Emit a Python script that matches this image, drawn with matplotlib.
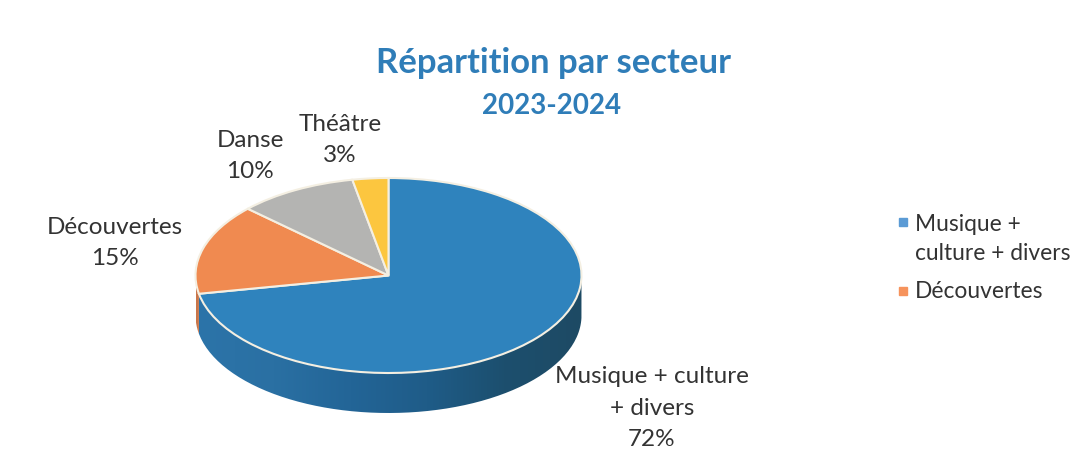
import numpy as np
import matplotlib
matplotlib.use("Agg")
import matplotlib.pyplot as plt
from matplotlib.colors import LinearSegmentedColormap
from matplotlib.lines import Line2D
from matplotlib.patches import PathPatch
from matplotlib.path import Path

plt.rcParams['font.family'] = ['Lato', 'DejaVu Sans']

# données
categories = ['Musique + culture\n+ divers', 'Découvertes', 'Danse', 'Théâtre']
values = [72, 15, 10, 3]
colors = ['#2f83bd', '#f08a50', '#b4b4b2', '#fcc63f']
legend_labels = ['Musique +\nculture + divers', 'Découvertes']
legend_colors = ['#5b9bd5', '#f6935c']
title = 'Répartition par secteur'
subtitle = '2023-2024'

W, H = 1078, 465
cx, cy = 388.5, 275.5    # centre du camembert (pixels)
rx, ry = 193, 97.5
depth = 40

fig = plt.figure(figsize=(W/100, H/100), dpi=100)

# axes en coordonnées "cercle unité", écrasés pour faire la perspective
ax = fig.add_axes([(cx-1.3*rx)/W, 1-(cy+1.6*ry)/H, 2.6*rx/W, 3.2*ry/H])
ax.axis('off')

d = depth/ry

# côté du camembert
side_maps = [
    LinearSegmentedColormap.from_list('b', ['#2c74a9', '#2a70a3', '#236597', '#1f5c88', '#1c4f6e', '#1e4a64']),
    LinearSegmentedColormap.from_list('o', ['#c9764a', '#c9764a']),
]
angles = 90 - np.cumsum([0] + values)*3.6
# le bleu passe devant : de l'angle final jusqu'à 360
spans = [(angles[1] % 360, 360), (180, angles[1] % 360)]
for (a0, a1), cm in zip(spans, side_maps):
    t = np.radians(np.linspace(a0, a1, 120))
    xs = np.concatenate([np.cos(t), np.cos(t[::-1])])
    ys = np.concatenate([np.sin(t), np.sin(t[::-1])-d])
    patch = PathPatch(Path(np.column_stack([xs, ys])), fc='none', ec='none')
    ax.add_patch(patch)
    grad = np.linspace(0, 1, 256).reshape(1, -1)
    im = ax.imshow(grad, cmap=cm, extent=[-1, 1, -1-d, 1], aspect='auto', zorder=1)
    im.set_clip_path(patch)

# face du dessus
wedges, _ = ax.pie(values, colors=colors, startangle=90, counterclock=False, radius=1,
                   wedgeprops={'edgecolor': '#f4efe2', 'linewidth': 1.5, 'zorder': 2})

ax.set_aspect('auto')
ax.set_xlim(-1.3, 1.3)
ax.set_ylim(-1.6, 1.6)

# titres
fig.text(553/W, 1-63/H, title, color='#2f7db8', fontsize=24.9, fontweight='bold', ha='center', va='center')
fig.text(552/W, 1-106/H, subtitle, color='#2f7db8', fontsize=20, fontweight='bold', ha='center', va='center')

# étiquettes
label_pos = [(652, 408), (115, 243), (250, 156), (340, 140)]
for name, v, (lx, ly) in zip(categories, values, label_pos):
    fig.text(lx/W, 1-ly/H, f'{name}\n{v}%', color='#333333', fontsize=17.5, ha='center', va='center',
             linespacing=1.62)

# légende (le carré est aligné sur la première ligne)
legend_y = [239, 292]
first_line_y = [222, 291]
for lab, c, y, my in zip(legend_labels, legend_colors, legend_y, first_line_y):
    fig.add_artist(Line2D([903/W], [1-my/H], ls='none', marker='s', ms=5.5, color=c, transform=fig.transFigure))
    fig.text(915/W, 1-y/H, lab, color='#333333', fontsize=16.4, ha='left', va='center', linespacing=1.5)

fig.savefig('out.png', dpi=100)
